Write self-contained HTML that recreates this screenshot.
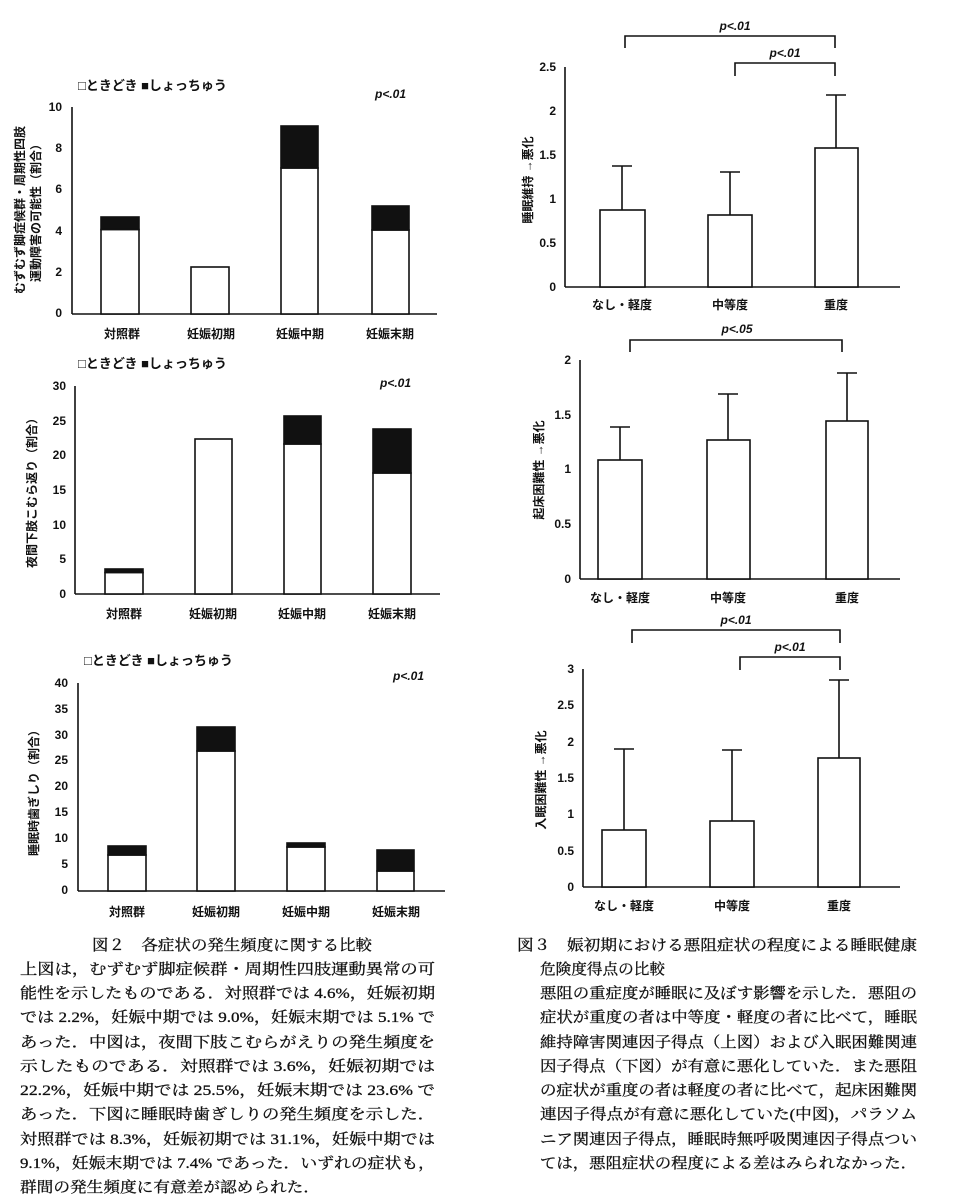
<!DOCTYPE html><html><head><meta charset="utf-8"><style>
body{margin:0;background:#fff}
svg{display:block}
.t{font-family:"Liberation Sans","Noto Sans CJK JP",sans-serif;font-size:12px;font-weight:bold;fill:#111}
.l{font-family:"Liberation Sans","Noto Sans CJK JP",sans-serif;font-size:13px;font-weight:bold;fill:#111}
.c{font-family:"Liberation Serif","Noto Serif CJK SC",serif;font-size:15px;fill:#111;stroke:#111;stroke-width:0.3}
.p{font-family:"Liberation Sans",sans-serif;font-size:12px;font-style:italic;font-weight:bold;fill:#111}
rect{stroke:#111;stroke-width:1.6}
line,path{stroke:#111;stroke-width:1.6;fill:none}
</style></head><body>
<svg width="954" height="1200" viewBox="0 0 954 1200">
<!-- Left chart 1 -->
<text class="l" x="78" y="90">□ときどき ■しょっちゅう</text>
<text class="p" x="375" y="98">p&lt;.01</text>
<line x1="72" y1="107" x2="72" y2="314"/><line x1="72" y1="314" x2="437" y2="314"/>
<g class="t" text-anchor="end"><text x="62" y="317">0</text><text x="62" y="276">2</text><text x="62" y="235">4</text><text x="62" y="193">6</text><text x="62" y="152">8</text><text x="62" y="111">10</text></g>
<rect x="101" y="229.5" width="38" height="84.5" fill="#fff"/><rect x="101" y="217" width="38" height="12.5" fill="#111"/>
<rect x="191" y="267" width="38" height="47" fill="#fff"/>
<rect x="281" y="168" width="37" height="146" fill="#fff"/><rect x="281" y="126" width="37" height="42" fill="#111"/>
<rect x="372" y="230" width="37" height="84" fill="#fff"/><rect x="372" y="206" width="37" height="24" fill="#111"/>
<g class="t" text-anchor="middle"><text x="122" y="338">対照群</text><text x="211" y="338">妊娠初期</text><text x="300" y="338">妊娠中期</text><text x="390" y="338">妊娠末期</text></g>
<text class="t" transform="translate(24,210) rotate(-90)" text-anchor="middle">むずむず脚症候群・周期性四肢</text>
<text class="t" transform="translate(40,210) rotate(-90)" text-anchor="middle">運動障害の可能性（割合）</text>
<!-- Left chart 2 -->
<text class="l" x="78" y="368">□ときどき ■しょっちゅう</text>
<text class="p" x="380" y="387">p&lt;.01</text>
<line x1="75" y1="386" x2="75" y2="594"/><line x1="75" y1="594" x2="440" y2="594"/>
<g class="t" text-anchor="end"><text x="66" y="598">0</text><text x="66" y="563">5</text><text x="66" y="529">10</text><text x="66" y="494">15</text><text x="66" y="459">20</text><text x="66" y="425">25</text><text x="66" y="390">30</text></g>
<rect x="105" y="572.5" width="38" height="21.5" fill="#fff"/><rect x="105" y="569" width="38" height="3.5" fill="#111"/>
<rect x="195" y="439" width="37" height="155" fill="#fff"/>
<rect x="284" y="444" width="37" height="150" fill="#fff"/><rect x="284" y="416" width="37" height="28" fill="#111"/>
<rect x="373" y="473" width="38" height="121" fill="#fff"/><rect x="373" y="429" width="38" height="44" fill="#111"/>
<g class="t" text-anchor="middle"><text x="124" y="618">対照群</text><text x="213" y="618">妊娠初期</text><text x="302" y="618">妊娠中期</text><text x="392" y="618">妊娠末期</text></g>
<text class="t" transform="translate(36,490) rotate(-90)" text-anchor="middle">夜間下肢こむら返り（割合）</text>
<!-- Left chart 3 -->
<text class="l" x="84" y="665">□ときどき ■しょっちゅう</text>
<text class="p" x="393" y="680">p&lt;.01</text>
<line x1="78" y1="683" x2="78" y2="891"/><line x1="78" y1="891" x2="445" y2="891"/>
<g class="t" text-anchor="end"><text x="68" y="894">0</text><text x="68" y="868">5</text><text x="68" y="842">10</text><text x="68" y="816">15</text><text x="68" y="790">20</text><text x="68" y="764">25</text><text x="68" y="739">30</text><text x="68" y="713">35</text><text x="68" y="687">40</text></g>
<rect x="108" y="855" width="38" height="36" fill="#fff"/><rect x="108" y="846" width="38" height="9" fill="#111"/>
<rect x="197" y="751" width="38" height="140" fill="#fff"/><rect x="197" y="727" width="38" height="24" fill="#111"/>
<rect x="287" y="847" width="38" height="44" fill="#fff"/><rect x="287" y="843" width="38" height="4" fill="#111"/>
<rect x="377" y="871" width="37" height="20" fill="#fff"/><rect x="377" y="850" width="37" height="21" fill="#111"/>
<g class="t" text-anchor="middle"><text x="127" y="916">対照群</text><text x="216" y="916">妊娠初期</text><text x="306" y="916">妊娠中期</text><text x="396" y="916">妊娠末期</text></g>
<text class="t" transform="translate(38,790) rotate(-90)" text-anchor="middle">睡眠時歯ぎしり（割合）</text>
<!-- Right chart A -->
<path d="M625 48 V36 H835 V48"/><text class="p" x="735" y="30" text-anchor="middle">p&lt;.01</text>
<path d="M735 76 V63 H835 V76"/><text class="p" x="785" y="57" text-anchor="middle">p&lt;.01</text>
<line x1="565" y1="67" x2="565" y2="287"/><line x1="565" y1="287" x2="900" y2="287"/>
<g class="t" text-anchor="end"><text x="556" y="291">0</text><text x="556" y="247">0.5</text><text x="556" y="203">1</text><text x="556" y="159">1.5</text><text x="556" y="115">2</text><text x="556" y="71">2.5</text></g>
<rect x="600" y="210" width="45" height="77" fill="#fff"/><path d="M622 210 V166 M612 166 H632"/>
<rect x="708" y="215" width="44" height="72" fill="#fff"/><path d="M730 215 V172 M720 172 H740"/>
<rect x="815" y="148" width="43" height="139" fill="#fff"/><path d="M836 148 V95 M826 95 H846"/>
<g class="t" text-anchor="middle"><text x="622" y="309">なし・軽度</text><text x="730" y="309">中等度</text><text x="836" y="309">重度</text></g>
<text class="t" transform="translate(532,180) rotate(-90)" text-anchor="middle">睡眠維持 →悪化</text>
<!-- Right chart B -->
<path d="M630 352 V340 H842 V352"/><text class="p" x="737" y="333" text-anchor="middle">p&lt;.05</text>
<line x1="580" y1="360" x2="580" y2="579"/><line x1="580" y1="579" x2="900" y2="579"/>
<g class="t" text-anchor="end"><text x="571" y="583">0</text><text x="571" y="528">0.5</text><text x="571" y="473">1</text><text x="571" y="419">1.5</text><text x="571" y="364">2</text></g>
<rect x="598" y="460" width="44" height="119" fill="#fff"/><path d="M620 460 V427 M610 427 H630"/>
<rect x="707" y="440" width="43" height="139" fill="#fff"/><path d="M728 440 V394 M718 394 H738"/>
<rect x="826" y="421" width="42" height="158" fill="#fff"/><path d="M847 421 V373 M837 373 H857"/>
<g class="t" text-anchor="middle"><text x="620" y="602">なし・軽度</text><text x="728" y="602">中等度</text><text x="847" y="602">重度</text></g>
<text class="t" transform="translate(543,470) rotate(-90)" text-anchor="middle">起床困難性 →悪化</text>
<!-- Right chart C -->
<path d="M632 643 V630 H840 V643"/><text class="p" x="736" y="624" text-anchor="middle">p&lt;.01</text>
<path d="M740 670 V657 H840 V670"/><text class="p" x="790" y="651" text-anchor="middle">p&lt;.01</text>
<line x1="583" y1="669" x2="583" y2="887"/><line x1="583" y1="887" x2="900" y2="887"/>
<g class="t" text-anchor="end"><text x="574" y="891">0</text><text x="574" y="855">0.5</text><text x="574" y="818">1</text><text x="574" y="782">1.5</text><text x="574" y="746">2</text><text x="574" y="709">2.5</text><text x="574" y="673">3</text></g>
<rect x="602" y="830" width="44" height="57" fill="#fff"/><path d="M624 830 V749 M614 749 H634"/>
<rect x="710" y="821" width="44" height="66" fill="#fff"/><path d="M732 821 V750 M722 750 H742"/>
<rect x="818" y="758" width="42" height="129" fill="#fff"/><path d="M839 758 V680 M829 680 H849"/>
<g class="t" text-anchor="middle"><text x="624" y="910">なし・軽度</text><text x="732" y="910">中等度</text><text x="839" y="910">重度</text></g>
<text class="t" transform="translate(545,780) rotate(-90)" text-anchor="middle">入眠困難性 →悪化</text>
<!-- Captions -->
<g class="c">
<text x="92" y="950" textLength="280" lengthAdjust="spacingAndGlyphs">図２　各症状の発生頻度に関する比較</text>
<text x="20" y="974" textLength="415" lengthAdjust="spacingAndGlyphs">上図は，むずむず脚症候群・周期性四肢運動異常の可</text>
<text x="20" y="998" textLength="415" lengthAdjust="spacingAndGlyphs">能性を示したものである．対照群では 4.6%，妊娠初期</text>
<text x="20" y="1022" textLength="415" lengthAdjust="spacingAndGlyphs">では 2.2%，妊娠中期では 9.0%，妊娠末期では 5.1% で</text>
<text x="20" y="1047" textLength="415" lengthAdjust="spacingAndGlyphs">あった．中図は，夜間下肢こむらがえりの発生頻度を</text>
<text x="20" y="1071" textLength="415" lengthAdjust="spacingAndGlyphs">示したものである．対照群では 3.6%，妊娠初期では</text>
<text x="20" y="1095" textLength="415" lengthAdjust="spacingAndGlyphs">22.2%，妊娠中期では 25.5%，妊娠末期では 23.6% で</text>
<text x="20" y="1119" textLength="415" lengthAdjust="spacingAndGlyphs">あった．下図に睡眠時歯ぎしりの発生頻度を示した．</text>
<text x="20" y="1144" textLength="415" lengthAdjust="spacingAndGlyphs">対照群では 8.3%，妊娠初期では 31.1%，妊娠中期では</text>
<text x="20" y="1168" textLength="415" lengthAdjust="spacingAndGlyphs">9.1%，妊娠末期では 7.4% であった．いずれの症状も，</text>
<text x="20" y="1192" textLength="300" lengthAdjust="spacingAndGlyphs">群間の発生頻度に有意差が認められた．</text>
<text x="517" y="950" textLength="400" lengthAdjust="spacingAndGlyphs">図３　娠初期における悪阻症状の程度による睡眠健康</text>
<text x="540" y="974" textLength="125" lengthAdjust="spacingAndGlyphs">危険度得点の比較</text>
<text x="540" y="998" textLength="377" lengthAdjust="spacingAndGlyphs">悪阻の重症度が睡眠に及ぼす影響を示した．悪阻の</text>
<text x="540" y="1022" textLength="377" lengthAdjust="spacingAndGlyphs">症状が重度の者は中等度・軽度の者に比べて，睡眠</text>
<text x="540" y="1047" textLength="377" lengthAdjust="spacingAndGlyphs">維持障害関連因子得点（上図）および入眠困難関連</text>
<text x="540" y="1071" textLength="377" lengthAdjust="spacingAndGlyphs">因子得点（下図）が有意に悪化していた．また悪阻</text>
<text x="540" y="1095" textLength="377" lengthAdjust="spacingAndGlyphs">の症状が重度の者は軽度の者に比べて，起床困難関</text>
<text x="540" y="1119" textLength="377" lengthAdjust="spacingAndGlyphs">連因子得点が有意に悪化していた(中図)，パラソム</text>
<text x="540" y="1144" textLength="377" lengthAdjust="spacingAndGlyphs">ニア関連因子得点，睡眠時無呼吸関連因子得点つい</text>
<text x="540" y="1168" textLength="377" lengthAdjust="spacingAndGlyphs">ては，悪阻症状の程度による差はみられなかった．</text>
</g>
</svg>
</body></html>
